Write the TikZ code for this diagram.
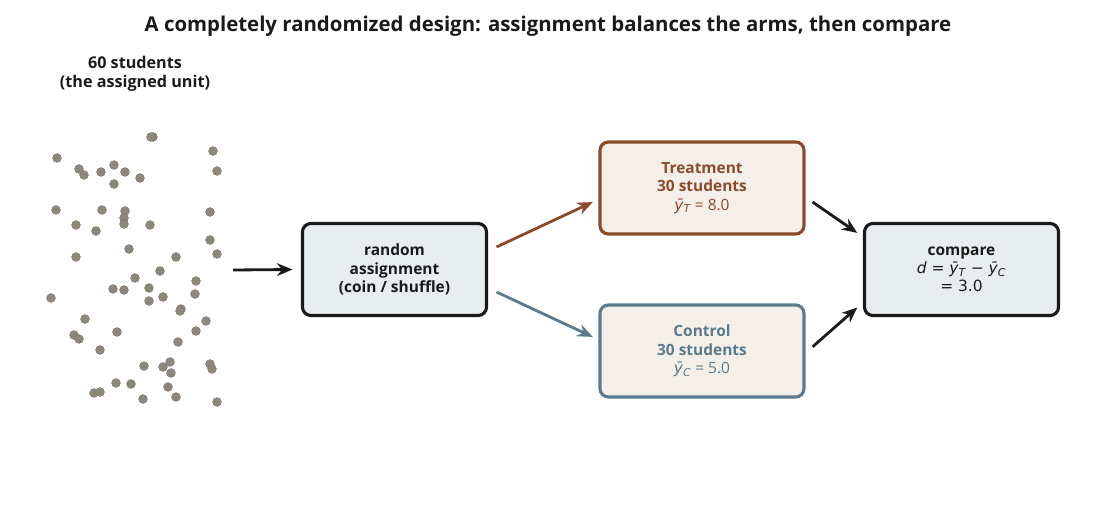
\documentclass[tikz,border=0pt]{standalone}
\usepackage{fontspec}
\setmainfont{Open Sans}[BoldFont={Open Sans Bold}]
\newfontfamily\dejavu{DejaVu Sans}
\usetikzlibrary{arrows.meta}
\definecolor{treatc}{HTML}{8C4A2B}
\definecolor{ctrlc}{HTML}{5B7A8C}
\definecolor{warmfill}{HTML}{F4EFE9}
\definecolor{coolfill}{HTML}{E8EDEF}
\definecolor{inkc}{HTML}{1A1A1A}
\definecolor{dotc}{HTML}{8E877C}
\newcommand{\ybar}[1]{{\dejavu\itshape ȳ\textsubscript{#1}}}
\tikzset{
  stepbox/.style={draw=inkc, fill=coolfill, line width=2.2pt, rounded corners=6pt,
    align=center, font=\bfseries\fontsize{11}{13}\selectfont, text=inkc},
  armbox/.style={stepbox, fill=warmfill, minimum width=5.1cm, minimum height=2.3cm},
  flow/.style={-{Stealth[length=11pt,width=9pt]}, line width=2pt, draw=inkc},
  student/.style={circle, fill=dotc, draw=dotc!85!black, line width=0.3pt, inner sep=0pt, minimum size=0.22cm}
}
\begin{document}
\begin{tikzpicture}[x=0.025cm, y=-0.025cm]
    \useasboundingbox (0,0) rectangle (1096,511);

    % Title
    \node[font=\bfseries\fontsize{14.5}{16}\selectfont, text=inkc] (title) at (548,26)
        {A completely randomized design: assignment balances the arms, then compare};
    \node[font=\bfseries\fontsize{11.5}{13.5}\selectfont, text=inkc, align=center] (unit) at (135,74)
        {60 students\\(the assigned unit)};

    % Students
    \foreach \px/\py [count=\i] in {153/137,151/137,213/151,57/158,217/171,79/169,84/175,101/172,
        114/165,125/172,140/178,114/184,56/210,102/210,125/211,124/218,124/224,210/212,
        76/225,96/231,150/225,210/240,217/254,76/257,129/249,176/257,160/271,196/281,
        135/278,113/289,124/290,149/288,51/298,149/301,163/297,195/294,181/309,180/311,
        85/319,206/321,74/335,79/339,117/332,196/331,100/350,178/342,144/366,163/367,
        170/362,171/373,210/364,212/369,116/383,131/384,168/387,94/393,100/392,143/399,
        176/397,217/402}
        \node[student] (s\i) at (\px,\py) {};

    % Boxes
    \node[stepbox, minimum width=4.6cm, minimum height=2.3cm] (assign) at (394.5,269.5)
        {random\\assignment\\(coin / shuffle)};
    \node[armbox, draw=treatc, text=treatc] (treat) at (702,188)
        {Treatment\\30 students\\{\mdseries\ybar{T} = 8.0}};
    \node[armbox, draw=ctrlc, text=ctrlc] (ctrl) at (702,351)
        {Control\\30 students\\{\mdseries\ybar{C} = 5.0}};
    \node[stepbox, minimum width=4.85cm, minimum height=2.3cm] (comp) at (961.5,269.5)
        {compare\\{\mdseries\dejavu\itshape d\upshape\ = \ybar{T} − \ybar{C}}\\{\mdseries\dejavu = 3.0}};

    % Arrows
    \coordinate (pool) at (233,270);
    \draw[flow] (pool) -- ([xshift=-6pt]assign.west);
    \draw[flow, draw=treatc] ([xshift=6pt,yshift=16pt]assign.east) -- ([xshift=-4pt,yshift=-10pt]treat.west);
    \draw[flow, draw=ctrlc] ([xshift=6pt,yshift=-16pt]assign.east) -- ([xshift=-4pt,yshift=10pt]ctrl.west);
    \draw[flow] ([xshift=5pt,yshift=-10pt]treat.east) -- ([xshift=-4pt,yshift=26pt]comp.west);
    \draw[flow] ([xshift=5pt,yshift=3pt]ctrl.east) -- ([xshift=-4pt,yshift=-27pt]comp.west);
\end{tikzpicture}
\end{document}
